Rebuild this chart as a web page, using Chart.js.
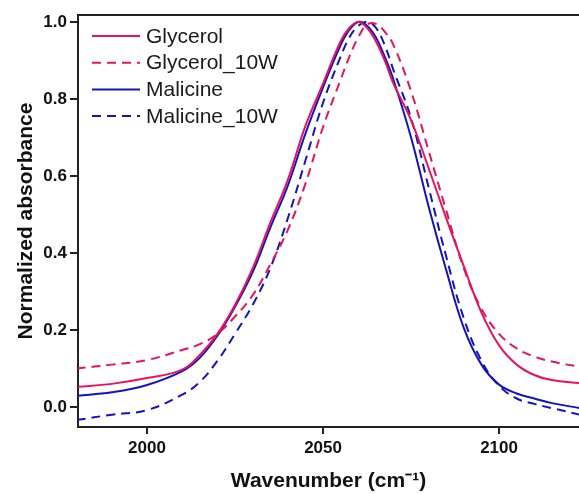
<!DOCTYPE html>
<html>
<head>
<meta charset="utf-8">
<script src="https://cdn.jsdelivr.net/npm/chart.js@4/dist/chart.umd.min.js"></script>
<style>
body { margin: 0; background: #fff; }
#wrap { width: 579px; height: 494px; }
</style>
</head>
<body>
<div id="wrap"><canvas id="absorbance-chart"></canvas></div>
<script>
// wavenumber grid (cm-1) and normalized absorbance
const wavenumber = [1980, 1990, 2000, 2010, 2015, 2020, 2025, 2030, 2035, 2040, 2045, 2050, 2055, 2057.5, 2060, 2062.5, 2065, 2067.5, 2070, 2075, 2080, 2085, 2090, 2095, 2100, 2105, 2110, 2115, 2123];
const glycerol = [0.052, 0.060, 0.075, 0.097, 0.135, 0.19, 0.265, 0.36, 0.478, 0.59, 0.73, 0.84, 0.95, 0.985, 1.0, 0.985, 0.95, 0.90, 0.84, 0.745, 0.62, 0.49, 0.365, 0.245, 0.16, 0.11, 0.083, 0.07, 0.062];
const glycerol10W = [0.10, 0.11, 0.122, 0.148, 0.163, 0.19, 0.235, 0.29, 0.37, 0.46, 0.58, 0.727, 0.85, 0.91, 0.96, 0.993, 0.995, 0.975, 0.94, 0.82, 0.665, 0.51, 0.36, 0.255, 0.19, 0.152, 0.131, 0.118, 0.104];
const malicine = [0.029, 0.038, 0.057, 0.093, 0.128, 0.185, 0.26, 0.35, 0.465, 0.575, 0.71, 0.83, 0.94, 0.98, 1.0, 0.99, 0.96, 0.91, 0.85, 0.70, 0.52, 0.355, 0.205, 0.11, 0.058, 0.035, 0.022, 0.01, -0.003];
const malicine10W = [-0.034, -0.02, -0.008, 0.032, 0.065, 0.12, 0.19, 0.265, 0.36, 0.49, 0.64, 0.79, 0.91, 0.96, 0.99, 1.0, 0.985, 0.94, 0.875, 0.75, 0.57, 0.39, 0.23, 0.12, 0.055, 0.022, 0.008, -0.003, -0.02];

const seriesNames = ['Glycerol', 'Glycerol_10W', 'Malicine', 'Malicine_10W'];
const xTicks = [2000, 2050, 2100];
const yTicks = [0, 0.2, 0.4, 0.6, 0.8, 1.0];

const red = 'rgb(230, 20, 90)';
const blue = 'rgb(20, 20, 190)';
const axisColor = '#222';
const fontFamily = '"Liberation Sans", Arial, sans-serif';

const toPoints = (ys) => wavenumber.map((x, i) => ({ x: x, y: ys[i] }));

// legend drawn inside the plot, top left, plus the top frame line
const insideLegend = {
    id: 'insideLegend',
    afterDatasetsDraw(chart) {
        const ctx = chart.ctx;
        const a = chart.chartArea;
        ctx.save();
        chart.data.datasets.forEach((ds, i) => {
            const y = 36 + i * 26.7;
            ctx.beginPath();
            ctx.strokeStyle = ds.borderColor;
            ctx.lineWidth = ds.borderWidth;
            ctx.setLineDash(ds.borderDash || []);
            ctx.moveTo(a.left + 14, y);
            ctx.lineTo(a.left + 62, y);
            ctx.stroke();
            ctx.setLineDash([]);
            ctx.fillStyle = '#1a1a1a';
            ctx.font = '21px ' + fontFamily;
            ctx.textBaseline = 'middle';
            ctx.fillText(ds.label, a.left + 68, y + 1);
        });
        ctx.strokeStyle = axisColor;
        ctx.lineWidth = 2;
        ctx.beginPath();
        ctx.moveTo(a.left, a.top);
        ctx.lineTo(a.right, a.top);
        ctx.stroke();
        ctx.restore();
    }
};

const ctx = document.getElementById('absorbance-chart');

new Chart(ctx, {
    type: 'line',
    data: {
        datasets: [{
            label: seriesNames[0],
            data: toPoints(glycerol),
            borderColor: red,
            borderWidth: 2,
        }, {
            label: seriesNames[1],
            data: toPoints(glycerol10W),
            borderColor: red,
            borderWidth: 2,
            borderDash: [9, 6],
        }, {
            label: seriesNames[2],
            data: toPoints(malicine),
            borderColor: blue,
            borderWidth: 2,
        }, {
            label: seriesNames[3],
            data: toPoints(malicine10W),
            borderColor: blue,
            borderWidth: 2,
            borderDash: [9, 6],
        }]
    },
    options: {
        animation: false,
        events: [],
        responsive: true,
        maintainAspectRatio: false,
        devicePixelRatio: 1,
        layout: {
            padding: { left: 0, top: 15, right: 0, bottom: 0 }
        },
        elements: {
            point: { radius: 0 },
            line: { tension: 0.4, fill: false }
        },
        scales: {
            x: {
                type: 'linear',
                min: 1980.4,
                max: 2122.7,
                afterBuildTicks: (s) => { s.ticks = xTicks.map(v => ({ value: v })); },
                afterFit: (s) => { s.height = 67; },
                grid: {
                    drawOnChartArea: false,
                    drawTicks: true,
                    tickLength: 7,
                    color: axisColor,
                    lineWidth: 2
                },
                border: { display: true, color: axisColor, width: 2 },
                ticks: {
                    color: '#111',
                    padding: 4,
                    maxRotation: 0,
                    font: { family: fontFamily, size: 17, weight: 'bold' },
                    callback: (v) => String(v)
                },
                title: {
                    display: true,
                    text: 'Wavenumber (cm⁻¹)',
                    color: '#111',
                    padding: { top: 0, bottom: 0 },
                    font: { family: fontFamily, size: 21, weight: 'bold' }
                }
            },
            y: {
                min: -0.052,
                max: 1.018,
                afterBuildTicks: (s) => { s.ticks = yTicks.map(v => ({ value: v })); },
                afterFit: (s) => { s.width = 78; },
                grid: {
                    drawOnChartArea: false,
                    drawTicks: true,
                    tickLength: 8,
                    color: axisColor,
                    lineWidth: 2
                },
                border: { display: true, color: axisColor, width: 2 },
                ticks: {
                    color: '#111',
                    padding: 3,
                    font: { family: fontFamily, size: 17, weight: 'bold' },
                    callback: (v) => v.toFixed(1)
                },
                title: {
                    display: true,
                    text: 'Normalized absorbance',
                    color: '#111',
                    padding: { top: 14, bottom: 0 },
                    font: { family: fontFamily, size: 21, weight: 'bold' }
                }
            }
        },
        plugins: {
            legend: { display: false },
            tooltip: { enabled: false }
        }
    },
    plugins: [insideLegend]
});
</script>
</body>
</html>
